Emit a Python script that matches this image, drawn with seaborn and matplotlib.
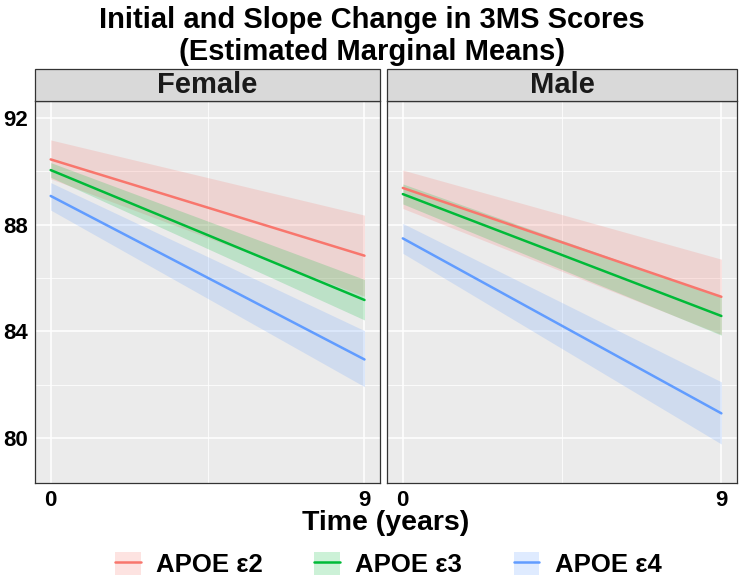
import pandas as pd
import numpy as np
import matplotlib
matplotlib.use('Agg')
import matplotlib.pyplot as plt
import seaborn as sns
from matplotlib.patches import Patch, Rectangle
from matplotlib.lines import Line2D

# values (estimated marginal means, 95% CI)
time = [0, 9]
sexes = ['Female', 'Male']
genotypes = ['APOE ε2', 'APOE ε3', 'APOE ε4']

female_mean = {'APOE ε2': [90.45, 86.84], 'APOE ε3': [90.05, 85.18], 'APOE ε4': [89.08, 82.95]}
female_lo = {'APOE ε2': [89.72, 85.32], 'APOE ε3': [89.78, 84.43], 'APOE ε4': [88.55, 81.93]}
female_hi = {'APOE ε2': [91.18, 88.36], 'APOE ε3': [90.33, 85.95], 'APOE ε4': [89.58, 84.03]}

male_mean = {'APOE ε2': [89.38, 85.30], 'APOE ε3': [89.15, 84.58], 'APOE ε4': [87.49, 80.93]}
male_lo = {'APOE ε2': [88.61, 83.89], 'APOE ε3': [88.78, 83.86], 'APOE ε4': [86.93, 79.78]}
male_hi = {'APOE ε2': [90.05, 86.71], 'APOE ε3': [89.53, 85.30], 'APOE ε4': [88.05, 82.11]}

y_ticks = [80, 84, 88, 92]
x_ticks = [0, 9]

colors = {'APOE ε2': '#F8766D', 'APOE ε3': '#00BA38', 'APOE ε4': '#619CFF'}

rows = []
for sex, m, lo, hi in [('Female', female_mean, female_lo, female_hi),
                       ('Male', male_mean, male_lo, male_hi)]:
    for g in genotypes:
        for i, t in enumerate(time):
            rows.append({'sex': sex, 'apoe': g, 'time': t,
                         'emmean': m[g][i], 'lower': lo[g][i], 'upper': hi[g][i]})
df = pd.DataFrame(rows)

sns.set_style('white')
plt.rcParams['font.family'] = ['Liberation Sans', 'DejaVu Sans']
plt.rcParams['font.weight'] = 'bold'
plt.rcParams['text.color'] = 'black'

fig = plt.figure(figsize=(7.44, 5.79), dpi=100)
bottom, top = 0.1663, 0.8256
panels = [(0.047, 0.464), (0.520, 0.471)]
strip_h = 0.0552

for k, sex in enumerate(sexes):
    left, width = panels[k]
    ax = fig.add_axes([left, bottom, width, top - bottom])
    ax.set_facecolor('#EBEBEB')
    sub = df[df['sex'] == sex]

    # grid: major + minor like ggplot
    for v in [80, 84, 88, 92]:
        ax.axhline(v, color='white', lw=1.1, zorder=0)
    for v in [82, 86, 90]:
        ax.axhline(v, color='white', lw=0.55, zorder=0)
    for v in [0, 9]:
        ax.axvline(v, color='white', lw=1.1, zorder=0)
    ax.axvline(4.5, color='white', lw=0.55, zorder=0)

    for g in genotypes:
        d = sub[sub['apoe'] == g]
        ax.fill_between(d['time'], d['lower'], d['upper'], color=colors[g],
                        alpha=0.2, lw=0, zorder=1)
    sns.lineplot(data=sub, x='time', y='emmean', hue='apoe', palette=colors,
                 hue_order=genotypes, ax=ax, legend=False, lw=1.8, zorder=2)

    ax.set_xlim(-0.45, 9.45)
    ax.set_ylim(78.33, 92.64)
    ax.set_xticks(x_ticks)
    ax.set_yticks(y_ticks)
    ax.set_xlabel('')
    ax.set_ylabel('')
    ax.tick_params(axis='both', length=3, width=0.8, color='#333333',
                   labelsize=16, pad=2, labelcolor='black')
    if k == 1:
        ax.tick_params(axis='y', left=False, labelleft=False)
    for lab in ax.get_xticklabels() + ax.get_yticklabels():
        lab.set_fontweight('bold')
    for s in ax.spines.values():
        s.set_visible(True)
        s.set_color('#333333')
        s.set_linewidth(0.9)

    # facet strip
    fig.patches.append(Rectangle((left, top), width, strip_h, transform=fig.transFigure,
                                 facecolor='#D9D9D9', edgecolor='#333333', lw=0.9))
    fig.text(left + width / 2, top + strip_h / 2, sex, ha='center', va='center',
             fontsize=21, fontweight='bold', color='#1A1A1A')

fig.text(0.5, 0.965, 'Initial and Slope Change in 3MS Scores', ha='center', va='center',
         fontsize=21, fontweight='bold')
fig.text(0.5, 0.91, '(Estimated Marginal Means)', ha='center', va='center',
         fontsize=21, fontweight='bold')
fig.text(0.518, 0.097, 'Time (years)', ha='center', va='center',
         fontsize=20.5, fontweight='bold')

handles = [(Patch(facecolor=colors[g], alpha=0.2, lw=0), Line2D([], [], color=colors[g], lw=1.8))
           for g in genotypes]
fig.legend(handles, genotypes, loc='center', bbox_to_anchor=(0.522, 0.025), ncol=3,
           frameon=False, prop={'weight': 'bold', 'size': 18.5},
           handlelength=1.0, handleheight=1.0, columnspacing=2.0, handletextpad=0.6)

fig.savefig('out.png', dpi=100)
